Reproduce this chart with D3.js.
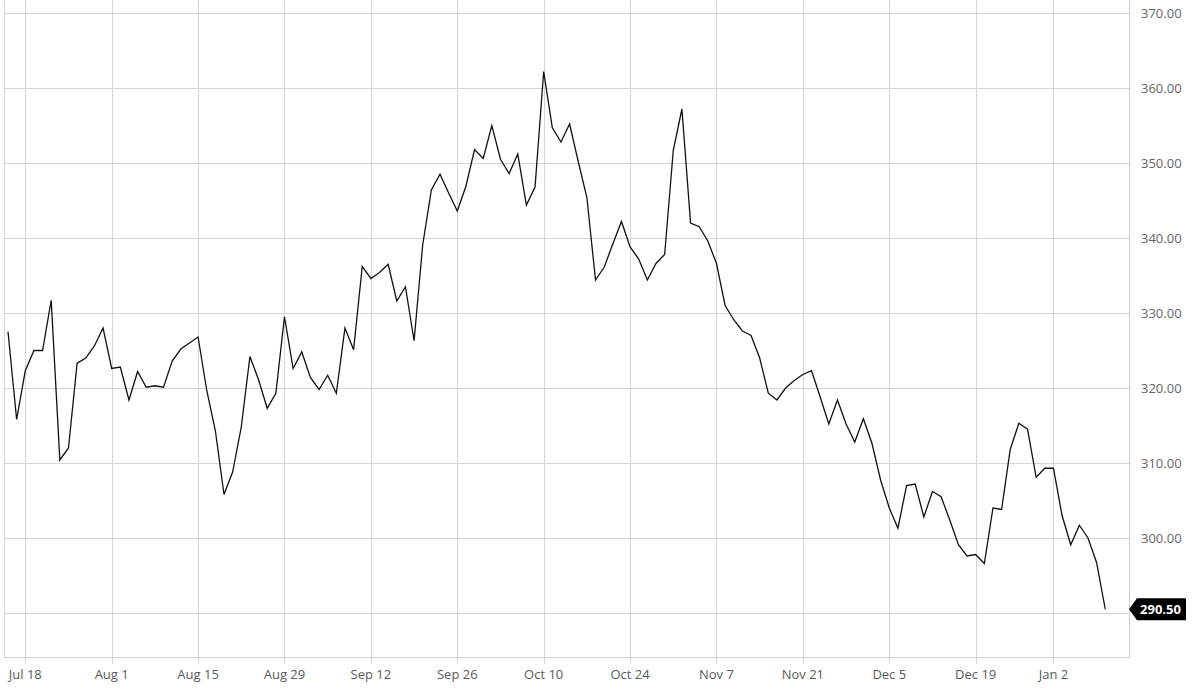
<!DOCTYPE html>
<html>
<head>
<meta charset="utf-8">
<script src="https://cdn.jsdelivr.net/npm/d3@7"></script>
<style>
  html, body { margin: 0; padding: 0; background: #fff; }
  svg { display: block; font-family: "Open Sans", "Noto Sans", sans-serif; }
</style>
</head>
<body>
<svg id="chart" width="1200" height="700"></svg>
<script>
// Closing prices, one per trading day (index 0 = two sessions before Jul 18)
const prices = [
  327.5, 315.8, 322.3, 325.0, 325.0, 331.7, 310.4, 312.0, 323.3, 324.0,
  325.6, 328.0, 322.6, 322.8, 318.4, 322.2, 320.1, 320.3, 320.1, 323.6,
  325.2, 326.0, 326.8, 319.7, 314.3, 305.8, 308.8, 314.8, 324.2, 321.1,
  317.3, 319.3, 329.5, 322.6, 324.8, 321.4, 319.8, 321.7, 319.3, 328.0,
  325.1, 336.2, 334.6, 335.4, 336.5, 331.6, 333.5, 326.3, 339.1, 346.4,
  348.5, 346.0, 343.6, 346.9, 351.8, 350.6, 355.0, 350.5, 348.6, 351.2,
  344.4, 346.8, 362.2, 354.7, 352.8, 355.2, 350.2, 345.4, 334.4, 336.1,
  339.2, 342.2, 338.8, 337.2, 334.4, 336.6, 337.8, 351.7, 357.2, 342.0,
  341.5, 339.6, 336.6, 331.0, 329.1, 327.6, 327.0, 324.0, 319.3, 318.4,
  320.0, 321.0, 321.8, 322.3, 318.8, 315.2, 318.4, 315.2, 312.8, 315.9,
  312.6, 307.7, 304.0, 301.3, 307.0, 307.2, 302.8, 306.2, 305.5, 302.4,
  299.1, 297.6, 297.8, 296.6, 304.0, 303.8, 311.8, 315.3, 314.5, 308.1,
  309.3, 309.3, 303.0, 299.1, 301.7, 300.0, 296.7, 290.5
];
const xTickLabels = ["Jul 18","Aug 1","Aug 15","Aug 29","Sep 12","Sep 26","Oct 10","Oct 24","Nov 7","Nov 21","Dec 5","Dec 19","Jan 2"];
const xTickIndex  = [2, 12, 22, 32, 42, 52, 62, 72, 82, 92, 102, 112, 121];
const yTicks = [290, 300, 310, 320, 330, 340, 350, 360, 370];
const lastLabel = "290.50";

const svg = d3.select("#chart");
const plot = { left: 4, right: 1129, top: 0, bottom: 657 };

const x = d3.scaleLinear().domain([0, prices.length - 1]).range([8, 8 + 127 * 8.64]);
const y = d3.scaleLinear().domain([290, 370]).range([613, 13]);

const gridColor = "#d6d6d6";

// horizontal grid
svg.append("g").selectAll("line").data(yTicks).join("line")
  .attr("x1", plot.left).attr("x2", plot.right)
  .attr("y1", d => Math.round(y(d)) + 0.5).attr("y2", d => Math.round(y(d)) + 0.5)
  .attr("stroke", gridColor).attr("stroke-width", 1);

// vertical grid + ticks
svg.append("g").selectAll("line").data(xTickIndex).join("line")
  .attr("x1", d => Math.round(x(d)) + 0.5).attr("x2", d => Math.round(x(d)) + 0.5)
  .attr("y1", plot.top).attr("y2", plot.bottom + 7)
  .attr("stroke", gridColor).attr("stroke-width", 1);

// borders
svg.append("line").attr("x1", plot.left + 0.5).attr("x2", plot.left + 0.5)
  .attr("y1", plot.top).attr("y2", plot.bottom).attr("stroke", gridColor);
svg.append("line").attr("x1", plot.right + 0.5).attr("x2", plot.right + 0.5)
  .attr("y1", plot.top).attr("y2", plot.bottom + 0.5).attr("stroke", "#cfcfcf");
svg.append("line").attr("x1", plot.left).attr("x2", plot.right + 1)
  .attr("y1", plot.bottom + 0.5).attr("y2", plot.bottom + 0.5).attr("stroke", "#cfcfcf");

// x labels
svg.append("g").selectAll("text").data(xTickIndex).join("text")
  .attr("x", d => x(d)).attr("y", 679)
  .attr("text-anchor", "middle")
  .attr("font-size", 13).attr("fill", "#5a5a5a")
  .text((d, i) => xTickLabels[i]);

// y labels (right)
svg.append("g").selectAll("text").data(yTicks.filter(d => d !== 290)).join("text")
  .attr("x", 1141).attr("y", d => y(d))
  .attr("dy", "0.35em")
  .attr("font-size", 13).attr("fill", "#666")
  .text(d => d3.format(".2f")(d));

// price line
const line = d3.line().x((d, i) => x(i)).y(d => y(d));
svg.append("path").datum(prices)
  .attr("d", line).attr("fill", "none")
  .attr("stroke", "#111").attr("stroke-width", 1.3)
  .attr("stroke-linejoin", "miter");

// last value marker
const ly = y(prices[prices.length - 1]);
const bx = 1137, bw = 49, bh = 22;
svg.append("path")
  .attr("d", `M${plot.right},${ly} L${bx},${ly - bh / 2} L${bx + bw},${ly - bh / 2} L${bx + bw},${ly + bh / 2} L${bx},${ly + bh / 2} Z`)
  .attr("fill", "#000");
svg.append("text")
  .attr("x", bx + bw / 2 - 1).attr("y", ly).attr("dy", "0.36em")
  .attr("text-anchor", "middle")
  .attr("font-size", 13).attr("font-weight", "bold").attr("fill", "#fff")
  .text(lastLabel);
</script>
</body>
</html>
